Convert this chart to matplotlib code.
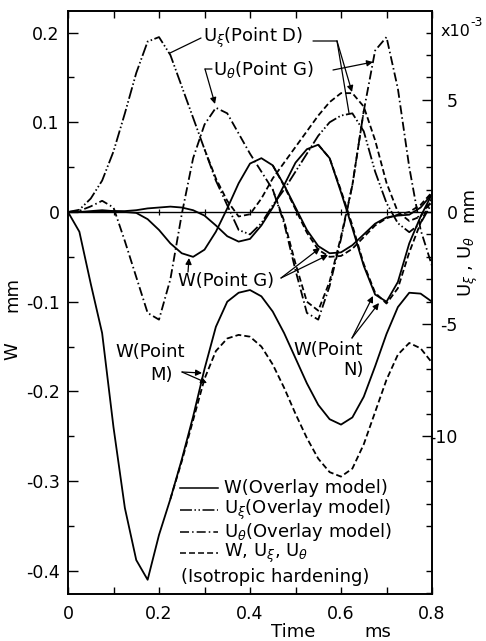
import matplotlib
matplotlib.use("Agg")
import matplotlib.pyplot as plt
from matplotlib.lines import Line2D

plt.rcParams["font.family"] = ["DejaVu Sans"]
plt.rcParams["font.size"] = 13
plt.rcParams["axes.unicode_minus"] = False
plt.rcParams["mathtext.fontset"] = "dejavusans"
plt.rcParams["lines.scale_dashes"] = False

# time (ms)
t = [0, 0.025, 0.05, 0.075, 0.1, 0.125, 0.15, 0.175, 0.2, 0.225, 0.25,
     0.275, 0.3, 0.325, 0.35, 0.375, 0.4, 0.425, 0.45, 0.475, 0.5,
     0.525, 0.55, 0.575, 0.6, 0.625, 0.65, 0.675, 0.7, 0.725, 0.75,
     0.775, 0.8]

# W (mm), overlay model
w_m = [0, -0.022, -0.08, -0.135, -0.24, -0.33, -0.388, -0.41, -0.36, -0.32, -0.276,
       -0.228, -0.175, -0.128, -0.1, -0.09, -0.087, -0.094, -0.111, -0.135, -0.163,
       -0.191, -0.215, -0.231, -0.237, -0.229, -0.206, -0.172, -0.136, -0.106, -0.09,
       -0.091, -0.1]
w_g = [0, 0.0, 0.001, 0.002, 0.001, 0.0, -0.001, -0.008, -0.02, -0.035, -0.046,
       -0.05, -0.042, -0.022, 0.004, 0.032, 0.054, 0.06, 0.052, 0.03, 0.005,
       -0.02, -0.038, -0.046, -0.045, -0.037, -0.025, -0.013, -0.006, -0.004, -0.003,
       0.005, 0.02]
w_n = [0, 0.0, 0.0, 0.001, 0.001, 0.001, 0.002, 0.004, 0.005, 0.006, 0.005,
       0.002, -0.004, -0.015, -0.027, -0.033, -0.03, -0.015, 0.005, 0.03, 0.055,
       0.07, 0.075, 0.06, 0.022, -0.018, -0.06, -0.092, -0.1, -0.078, -0.035,
       -0.005, 0.02]

# U (x10^-3 mm), overlay model
u_xi = [0, 0.1, 0.6, 1.4, 2.7, 4.4, 6.2, 7.6, 7.8, 7.0, 5.6,
        4.2, 2.8, 1.4, 0.3, -0.8, -1.0, -0.5, 0.3, 1.0, 1.8,
        2.6, 3.4, 4.0, 4.3, 4.4, 3.6, 1.8, 0.4, -0.5, -0.9,
        -0.5, 0.4]
u_th = [0, 0.05, 0.25, 0.5, 0.2, -1.3, -2.9, -4.5, -4.8, -3.0, -0.1,
        2.4, 3.9, 4.65, 4.4, 3.5, 2.6, 1.8, 1.0, -0.5, -2.6,
        -4.5, -4.8, -3.3, -1.2, 1.2, 4.5, 7.2, 7.8, 5.5, 2.0,
        -0.8, -2.4]

# isotropic hardening (where it leaves the overlay curves)
t_wm_iso = t[9:]
w_m_iso = [-0.32, -0.278, -0.232, -0.186, -0.155, -0.141, -0.137, -0.139, -0.15, -0.17,
           -0.196, -0.225, -0.252, -0.275, -0.29, -0.295, -0.286, -0.259, -0.223, -0.187,
           -0.159, -0.146, -0.152, -0.168]
t_wg_iso = t[18:]
w_g_iso = [0.052, 0.029, 0.003, -0.023, -0.042, -0.05, -0.049, -0.041, -0.028, -0.015,
           -0.007, -0.003, 0.0, 0.008, 0.022]
t_wn_iso = t[22:]
w_n_iso = [0.075, 0.06, 0.024, -0.015, -0.058, -0.09, -0.102, -0.085, -0.045, -0.012, 0.015]
t_xi_iso = t[12:]
u_xi_iso = [2.8, 1.5, 0.5, -0.2, -0.1, 0.6, 1.5, 2.2, 2.9, 3.6, 4.3,
            4.9, 5.3, 5.3, 4.7, 3.2, 1.3, 0.0, -0.4, -0.2, 0.6]
t_th_iso = t[18:27]
u_th_iso = [1.0, -0.4, -2.3, -4.0, -4.4, -3.1, -1.1, 1.2, 4.5]

zero_marks = [0.1, 0.2, 0.3, 0.4, 0.5, 0.6, 0.7]

x_ticks = [0, 0.2, 0.4, 0.6, 0.8]
x_labels = ["0", "0.2", "0.4", "0.6", "0.8"]
y_ticks = [-0.4, -0.3, -0.2, -0.1, 0, 0.1, 0.2]
y_labels = ["-0.4", "-0.3", "-0.2", "-0.1", "0", "0.1", "0.2"]
y2_ticks = [-10, -5, 0, 5]
y2_labels = ["-10", "-5", "0", "5"]

SOLID = "-"
DASHDOTDOT = (0, (8.6, 1.8, 1.1, 1.8, 1.1, 1.8))
DASHDOT = (0, (6.5, 2.2, 1.1, 2.2))
DASHED = (0, (4.3, 2.2))
LW = 1.3

W, H = 486, 641
fig = plt.figure(figsize=(W / 100, H / 100), dpi=100)
ax = fig.add_axes([68 / W, 1 - 594 / H, 364 / W, 583 / H])
ax.set_xlim(0, 0.8)
ax.set_ylim((212 - 594) / 897, (212 - 11) / 897)
ax2 = ax.twinx()
lo, hi = ax.get_ylim()
ax2.set_ylim(lo * 40, hi * 40)


def px(x, y):
    # pixel position in the picture -> data position on the left axis
    return ((x - 68) / 455, (212 - y) / 897)


def axf(x, y):
    return ((x - 68) / 364, (594 - y) / 583)


# curves
ax.axhline(0, color="k", lw=1.0)
ax.plot(zero_marks, [0] * len(zero_marks), ls="none", marker="|", ms=5, mew=0.9, color="k")
ax.plot(t, w_m, color="k", lw=LW, ls=SOLID)
ax.plot(t, w_g, color="k", lw=LW, ls=SOLID)
ax.plot(t, w_n, color="k", lw=LW, ls=SOLID)
ax.plot(t_wm_iso, w_m_iso, color="k", lw=LW, ls=DASHED)
ax.plot(t_wg_iso, w_g_iso, color="k", lw=LW, ls=DASHED)
ax.plot(t_wn_iso, w_n_iso, color="k", lw=LW, ls=DASHED)
ax2.plot(t, u_xi, color="k", lw=LW, ls=DASHDOTDOT)
ax2.plot(t, u_th, color="k", lw=LW, ls=DASHDOT)
ax2.plot(t_xi_iso, u_xi_iso, color="k", lw=LW, ls=DASHED)
ax2.plot(t_th_iso, u_th_iso, color="k", lw=LW, ls=DASHED)

# ticks
ax.set_xticks(x_ticks)
ax.set_xticklabels(x_labels)
ax.set_xticks([0.1, 0.3, 0.5, 0.7], minor=True)
ax.set_yticks(y_ticks)
ax.set_yticklabels(y_labels)
ax.set_yticks([-0.35, -0.25, -0.15, -0.05, 0.05, 0.15], minor=True)
ax.tick_params(axis="both", which="both", direction="in", top=True, right=False)
ax.tick_params(axis="x", which="major", length=5, width=1, pad=8, labelsize=12.5)
ax.tick_params(axis="x", which="minor", length=5, width=1)
ax.tick_params(axis="y", which="major", length=7, width=1, pad=6, labelsize=12.5)
ax.tick_params(axis="y", which="minor", length=4, width=1)
ax2.set_yticks(y2_ticks)
ax2.set_yticklabels(y2_labels)
ax2.set_yticks([v for v in range(-17, 9) if v % 5 != 0], minor=True)
ax2.tick_params(axis="y", which="major", direction="in", length=7, width=1, pad=18.5, labelsize=12.5)
ax2.tick_params(axis="y", which="minor", direction="in", length=4, width=1)
for lab in ax2.get_yticklabels():
    lab.set_horizontalalignment("right")
for a in (ax, ax2):
    for s in a.spines.values():
        s.set_linewidth(1.2)

# axis titles
fig.text(12 / W, 1 - 351 / H, "W", rotation=90, ha="center", va="center")
fig.text(12 / W, 1 - 294 / H, "mm", rotation=90, ha="center", va="center")
fig.text(468 / W, 1 - 267 / H, r"U$_{\xi}$ , U$_{\theta}$", rotation=90, ha="center", va="center")
fig.text(468 / W, 1 - 205 / H, "mm", rotation=90, ha="center", va="center")
fig.text(441 / W, 1 - 31 / H, "x10", ha="left", va="center", fontsize=11.5)
fig.text(470 / W, 1 - 22 / H, "-3", ha="left", va="center", fontsize=9)
fig.text(293 / W, 1 - 632 / H, "Time", ha="center", va="center")
fig.text(378 / W, 1 - 632 / H, "ms", ha="center", va="center")

# labels on curves
arrow = dict(arrowstyle="-|>", color="k", lw=0.9, mutation_scale=9, shrinkA=0, shrinkB=0)
line = dict(arrowstyle="-", color="k", lw=0.9, shrinkA=0, shrinkB=0)

ax.text(*px(203, 38), r"U$_{\xi}$(Point D)", ha="left", va="center")
ax.annotate("", xy=px(170, 53), xytext=px(201, 38), arrowprops=line)
ax.annotate("", xy=px(337, 41), xytext=px(313, 41), arrowprops=line)
ax.annotate("", xy=px(352, 92), xytext=px(337, 41), arrowprops=arrow)
ax.annotate("", xy=px(349, 113), xytext=px(337, 41), arrowprops=line)

ax.text(*px(213, 70), r"U$_{\theta}$(Point G)", ha="left", va="center")
ax.annotate("", xy=px(205, 69), xytext=px(212, 69), arrowprops=line)
ax.annotate("", xy=px(215, 104), xytext=px(205, 69), arrowprops=arrow)
ax.annotate("", xy=px(373, 62), xytext=px(333, 70), arrowprops=arrow)

ax.text(*px(178, 281), "W(Point G)", ha="left", va="center")
ax.annotate("", xy=px(189, 258), xytext=px(188, 272), arrowprops=arrow)
ax.annotate("", xy=px(320, 248), xytext=px(281, 278), arrowprops=arrow)
ax.annotate("", xy=px(328, 255), xytext=px(281, 278), arrowprops=arrow)

ax.text(*px(293, 350), "W(Point", ha="left", va="center")
ax.text(*px(343, 370), "N)", ha="left", va="center")
ax.annotate("", xy=px(373, 296), xytext=px(352, 338), arrowprops=arrow)
ax.annotate("", xy=px(379, 303), xytext=px(352, 338), arrowprops=arrow)

ax.text(*px(115, 352), "W(Point", ha="left", va="center")
ax.text(*px(150, 375), "M)", ha="left", va="center")
ax.annotate("", xy=px(202, 373), xytext=px(182, 372), arrowprops=arrow)
ax.annotate("", xy=px(207, 383), xytext=px(182, 372), arrowprops=arrow)

# key
key = [(SOLID, "W(Overlay model)", 488),
       (DASHDOTDOT, r"U$_{\xi}$(Overlay model)", 510),
       (DASHDOT, r"U$_{\theta}$(Overlay model)", 532),
       (DASHED, r"W, U$_{\xi}$, U$_{\theta}$", 553)]
for style, label, yy in key:
    x0, y0 = axf(180, yy)
    x1, _ = axf(218, yy)
    ax.add_line(Line2D([x0, x1], [y0, y0], transform=ax.transAxes, color="k", lw=1.1, ls=style))
    ax.text(*axf(224, yy), label, transform=ax.transAxes, ha="left", va="center")
ax.text(*axf(181, 577), "(Isotropic hardening)", transform=ax.transAxes, ha="left", va="center")

fig.savefig("out.png", dpi=100)
